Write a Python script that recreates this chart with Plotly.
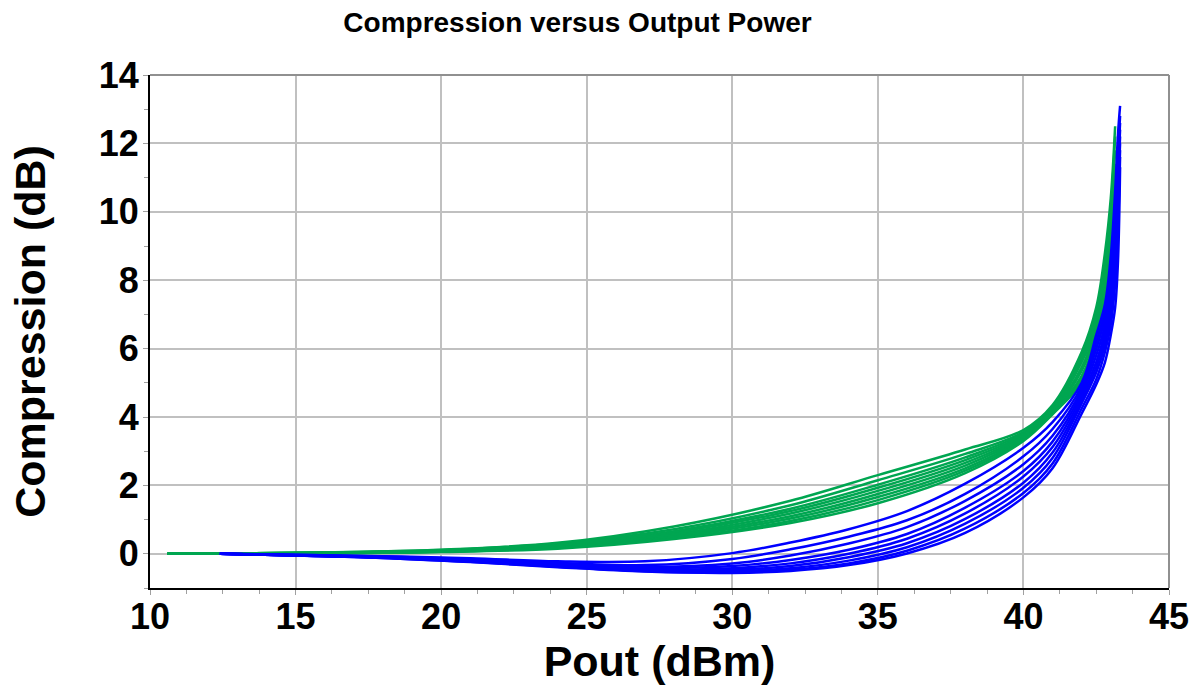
import plotly.graph_objects as go

# ---------------- data ----------------
green_pout = [10.6, 13, 16, 20, 24, 28, 32, 35, 38, 40, 41, 42, 42.5, 42.8, 43.0, 43.15]
green_comp = [
    [0, 0.01, 0.04, 0.12, 0.32, 0.80, 1.55, 2.30, 3.05, 3.62, 4.35, 5.9, 7.2, 8.8, 10.4, 12.5],
    [0, 0.01, 0.04, 0.11, 0.30, 0.72, 1.42, 2.15, 2.92, 3.56, 4.30, 5.8, 7.0, 8.5, 10.1, 12.2],
    [0, 0.01, 0.03, 0.10, 0.27, 0.66, 1.32, 2.02, 2.82, 3.52, 4.25, 5.7, 6.85, 8.3, 9.8, 11.8],
    [0, 0.01, 0.03, 0.09, 0.25, 0.62, 1.25, 1.93, 2.74, 3.48, 4.22, 5.6, 6.7, 8.1, 9.5, 11.4],
    [0, 0.01, 0.03, 0.08, 0.23, 0.58, 1.18, 1.84, 2.66, 3.45, 4.18, 5.45, 6.6, 7.9, 9.2, 11.0],
    [0, 0.01, 0.02, 0.07, 0.21, 0.54, 1.10, 1.75, 2.58, 3.42, 4.15, 5.35, 6.45, 7.7, 9.0, 10.6],
    [0, 0.01, 0.02, 0.07, 0.19, 0.50, 1.03, 1.66, 2.50, 3.38, 4.12, 5.2, 6.3, 7.5, 8.7, 10.2],
    [0, 0.00, 0.02, 0.06, 0.17, 0.46, 0.96, 1.57, 2.43, 3.34, 4.10, 5.1, 6.15, 7.25, 8.4, 9.9],
    [0, 0.00, 0.01, 0.05, 0.15, 0.43, 0.90, 1.48, 2.36, 3.30, 4.08, 5.0, 6.0, 7.0, 8.2, 9.6],
]

blue_pout = [12.4, 15, 18, 21, 24, 27, 30, 32, 34, 36, 38, 40, 41, 42, 42.5, 42.8, 43.0, 43.15, 43.25, 43.32]
blue_comp = [
    [0, -0.03, -0.07, -0.13, -0.22, -0.22, 0.02, 0.33, 0.72, 1.25, 2.05, 3.10, 3.85, 5.0, 6.4, 7.3, 8.7, 10.6, 12.3, 13.1],
    [0, -0.03, -0.08, -0.15, -0.26, -0.33, -0.15, 0.13, 0.50, 0.98, 1.75, 2.85, 3.65, 4.9, 6.2, 7.1, 8.4, 10.2, 11.8, 12.8],
    [0, -0.04, -0.09, -0.17, -0.29, -0.38, -0.28, -0.05, 0.30, 0.78, 1.55, 2.62, 3.45, 4.8, 6.0, 6.9, 8.1, 9.8, 11.5, 12.6],
    [0, -0.04, -0.10, -0.19, -0.32, -0.42, -0.36, -0.18, 0.12, 0.58, 1.35, 2.42, 3.28, 4.7, 5.8, 6.7, 7.9, 9.5, 11.2, 12.4],
    [0, -0.04, -0.10, -0.20, -0.34, -0.45, -0.42, -0.28, 0.00, 0.44, 1.18, 2.26, 3.12, 4.6, 5.6, 6.5, 7.6, 9.2, 10.9, 12.2],
    [0, -0.05, -0.11, -0.21, -0.35, -0.47, -0.47, -0.36, -0.10, 0.31, 1.02, 2.08, 2.96, 4.5, 5.45, 6.3, 7.3, 8.9, 10.6, 12.0],
    [0, -0.05, -0.11, -0.22, -0.37, -0.49, -0.51, -0.42, -0.20, 0.19, 0.88, 1.93, 2.80, 4.4, 5.3, 6.1, 7.0, 8.5, 10.2, 11.8],
    [0, -0.05, -0.12, -0.23, -0.38, -0.51, -0.54, -0.47, -0.28, 0.09, 0.74, 1.78, 2.64, 4.25, 5.1, 5.9, 6.7, 7.9, 9.6, 11.6],
    [0, -0.05, -0.12, -0.24, -0.39, -0.52, -0.56, -0.50, -0.33, 0.01, 0.61, 1.65, 2.50, 4.1, 4.95, 5.6, 6.4, 7.2, 8.6, 11.3],
]

x_ticks = [10, 15, 20, 25, 30, 35, 40, 45]
y_ticks = [0, 2, 4, 6, 8, 10, 12, 14]

GREEN = "#00A651"
BLUE = "#0000FF"
FONT = "Arial, Liberation Sans, sans-serif"

fig = go.Figure()
for ys in green_comp:
    fig.add_trace(go.Scatter(x=green_pout, y=ys, mode="lines",
                             line=dict(color=GREEN, width=2.5, shape="spline", smoothing=1.0),
                             showlegend=False, hoverinfo="skip"))
for ys in blue_comp:
    fig.add_trace(go.Scatter(x=blue_pout, y=ys, mode="lines",
                             line=dict(color=BLUE, width=2.5, shape="spline", smoothing=1.0),
                             showlegend=False, hoverinfo="skip"))

axis_common = dict(
    showgrid=True, gridcolor="#C0C0C0", gridwidth=2,
    showline=True, linecolor="black", linewidth=2,
    ticks="outside", ticklen=5, tickcolor="#A0A0A0", tickwidth=1,
    tickfont=dict(family=FONT, size=36, color="black", weight="bold"),
    zeroline=False, automargin=False,
)

fig.update_xaxes(range=[10, 45], tickmode="array", tickvals=x_ticks, ticklabelstandoff=-9,
                 minor=dict(dtick=1.25, tick0=10, ticks="outside", ticklen=4, tickcolor="#A0A0A0", showgrid=False),
                 title=dict(text="Pout (dBm)", font=dict(family=FONT, size=43, color="black", weight="bold"), standoff=4),
                 **axis_common)
fig.update_yaxes(range=[-1, 14], tickmode="array", tickvals=y_ticks, ticklabelstandoff=-3,
                 minor=dict(dtick=1, tick0=0, ticks="outside", ticklen=4, tickcolor="#A0A0A0", showgrid=False),
                 title=dict(text="Compression (dB)", font=dict(family=FONT, size=43, color="black", weight="bold"), standoff=40),
                 **axis_common)

# gray top and right frame
fig.add_shape(type="line", xref="paper", yref="paper", x0=0, x1=1, y0=1, y1=1,
              line=dict(color="#909090", width=2))
fig.add_shape(type="line", xref="paper", yref="paper", x0=1, x1=1, y0=0, y1=1,
              line=dict(color="#909090", width=2))

fig.update_layout(
    width=1200, height=687,
    margin=dict(l=150, r=31, t=75, b=99),
    paper_bgcolor="white", plot_bgcolor="white",
    title=dict(text="Compression versus Output Power", x=577.5 / 1200, xref="container", xanchor="center",
               y=1 - 22 / 687, yref="container", yanchor="middle",
               font=dict(family=FONT, size=28, color="black", weight="bold")),
    showlegend=False,
)

fig.write_html("out.html", config={"displayModeBar": False},
               post_script="document.body.style.margin='0px';document.body.style.overflow='hidden';")
